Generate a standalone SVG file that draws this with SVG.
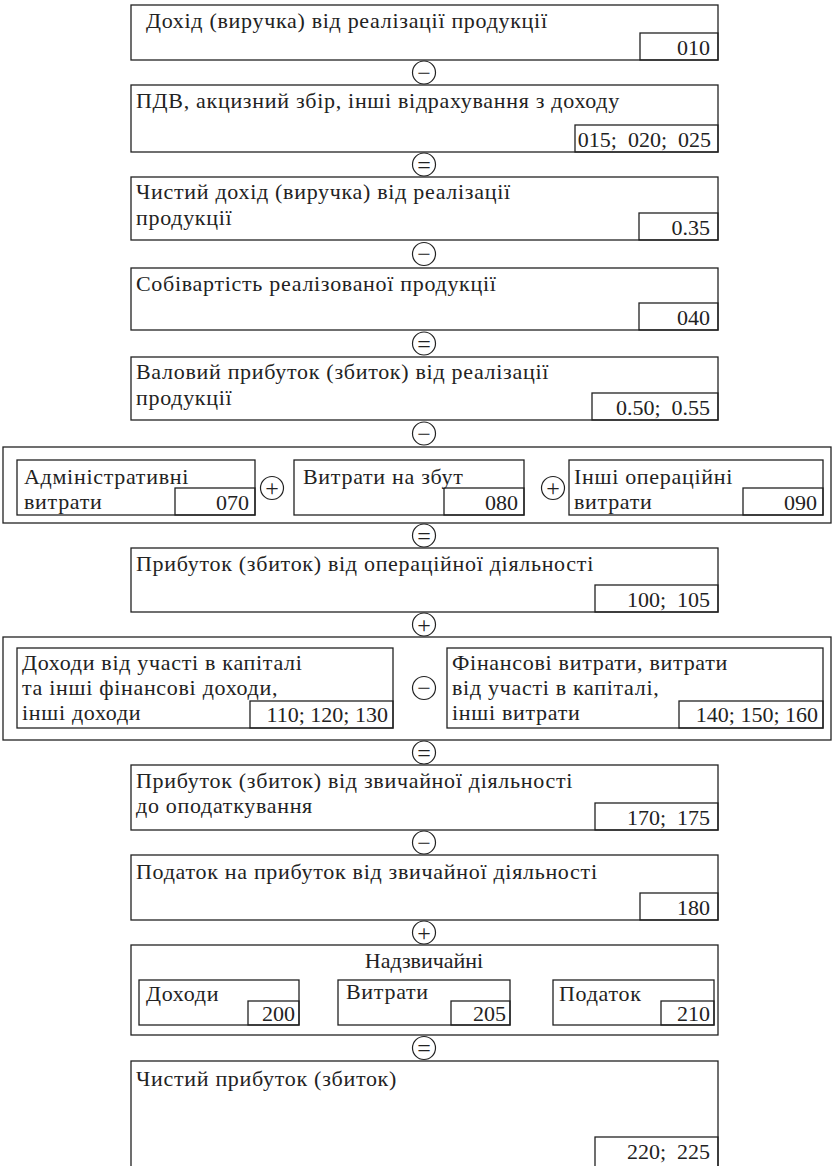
<svg xmlns="http://www.w3.org/2000/svg" width="833" height="1166" viewBox="0 0 833 1166">
<style>
.b{fill:none;stroke:#222;stroke-width:1.3}
.t{font-family:"Liberation Serif","Times New Roman",serif;font-size:22px;letter-spacing:0.7px;fill:#222}
.n{font-family:"Liberation Serif","Times New Roman",serif;font-size:22px;fill:#222;text-anchor:end;white-space:pre}
.c{fill:#fff;stroke:#222;stroke-width:1.2}
.s{font-family:"Liberation Serif","Times New Roman",serif;font-size:22px;fill:#222;text-anchor:middle}
.o{font-family:"Liberation Serif","Times New Roman",serif;font-size:24px;fill:#222;text-anchor:middle}
</style>
<rect width="833" height="1166" fill="#fff"/>
<g id="n1"><rect class="b" x="131" y="5" width="587" height="55"/><text class="t" x="146" y="28">Дохід (виручка) від реалізації продукції</text><rect class="b" x="640" y="33" width="78" height="27"/><text class="n" x="710" y="55">010</text></g>
<g id="n2"><rect class="b" x="131" y="85" width="587" height="67"/><text class="t" x="136" y="108">ПДВ, акцизний збір, інші відрахування з доходу</text><rect class="b" x="575" y="125" width="143" height="27"/><text class="n" x="711" y="147" xml:space="preserve">015;  020;  025</text></g>
<g id="n3"><rect class="b" x="131" y="177" width="587" height="63"/><text class="t" x="136" y="199">Чистий дохід (виручка) від реалізації</text><text class="t" x="136" y="225">продукції</text><rect class="b" x="639" y="213" width="79" height="27"/><text class="n" x="710" y="235">0.35</text></g>
<g id="n4"><rect class="b" x="131" y="268" width="587" height="62"/><text class="t" x="136" y="291">Собівартість реалізованої продукції</text><rect class="b" x="639" y="303" width="79" height="27"/><text class="n" x="710" y="325">040</text></g>
<g id="n5"><rect class="b" x="131" y="357" width="587" height="63"/><text class="t" x="136" y="379">Валовий прибуток (збиток) від реалізації</text><text class="t" x="136" y="405">продукції</text><rect class="b" x="592" y="393" width="126" height="27"/><text class="n" x="710" y="415" xml:space="preserve">0.50;  0.55</text></g>
<g id="n6"><rect class="b" x="3" y="447" width="828" height="76"/>
<rect class="b" x="17" y="460" width="238" height="55"/><text class="t" x="24" y="484">Адміністративні</text><text class="t" x="24" y="509">витрати</text><rect class="b" x="175" y="488" width="80" height="27"/><text class="n" x="249" y="510">070</text>
<rect class="b" x="294" y="460" width="230" height="55"/><text class="t" x="303" y="484">Витрати на збут</text><rect class="b" x="444" y="488" width="80" height="27"/><text class="n" x="518" y="510">080</text>
<rect class="b" x="569" y="460" width="254" height="55"/><text class="t" x="574" y="484">Інші операційні</text><text class="t" x="574" y="509">витрати</text><rect class="b" x="743" y="488" width="80" height="27"/><text class="n" x="817" y="510">090</text></g>
<g id="n7"><rect class="b" x="131" y="548" width="587" height="64"/><text class="t" x="136" y="571">Прибуток (збиток) від операційної діяльності</text><rect class="b" x="595" y="585" width="123" height="27"/><text class="n" x="710" y="607" xml:space="preserve">100;  105</text></g>
<g id="n8"><rect class="b" x="3" y="637" width="828" height="103"/>
<rect class="b" x="17" y="648" width="376" height="80"/><text class="t" x="22" y="670">Доходи від участі в капіталі</text><text class="t" x="22" y="695">та інші фінансові доходи,</text><text class="t" x="22" y="720">інші доходи</text><rect class="b" x="250" y="701" width="143" height="27"/><text class="n" x="388" y="722">110; 120; 130</text>
<rect class="b" x="447" y="648" width="376" height="80"/><text class="t" x="452" y="670">Фінансові витрати, витрати</text><text class="t" x="452" y="695">від участі в капіталі,</text><text class="t" x="452" y="720">інші витрати</text><rect class="b" x="679" y="701" width="144" height="27"/><text class="n" x="818" y="722">140; 150; 160</text></g>
<g id="n9"><rect class="b" x="131" y="765" width="587" height="65"/><text class="t" x="136" y="788">Прибуток (збиток) від звичайної діяльності</text><text class="t" x="136" y="813">до оподаткування</text><rect class="b" x="595" y="803" width="123" height="27"/><text class="n" x="710" y="825" xml:space="preserve">170;  175</text></g>
<g id="n10"><rect class="b" x="131" y="855" width="587" height="65"/><text class="t" x="136" y="879">Податок на прибуток від звичайної діяльності</text><rect class="b" x="640" y="893" width="78" height="27"/><text class="n" x="710" y="915">180</text></g>
<g id="n11"><rect class="b" x="131" y="945" width="587" height="90"/><text class="s" x="424" y="968">Надзвичайні</text>
<rect class="b" x="139" y="980" width="160" height="45"/><text class="t" x="146" y="1001">Доходи</text><rect class="b" x="248" y="1001" width="51" height="24"/><text class="n" x="295" y="1021">200</text>
<rect class="b" x="338" y="980" width="172" height="45"/><text class="t" x="346" y="999">Витрати</text><rect class="b" x="451" y="1001" width="59" height="24"/><text class="n" x="506" y="1021">205</text>
<rect class="b" x="553" y="980" width="161" height="45"/><text class="t" x="559" y="1001">Податок</text><rect class="b" x="661" y="1001" width="53" height="24"/><text class="n" x="710" y="1021">210</text></g>
<g id="n12"><rect class="b" x="131" y="1061" width="587" height="115"/><text class="t" x="136" y="1086">Чистий прибуток (збиток)</text><rect class="b" x="595" y="1137" width="123" height="35"/><text class="n" x="710" y="1159" xml:space="preserve">220;  225</text></g>
<g id="connectors">
<circle class="c" cx="424" cy="72.5" r="11.5"/><text class="o" x="424" y="80.5">−</text>
<circle class="c" cx="424" cy="164.5" r="11.5"/><text class="o" x="424" y="172.5">=</text>
<circle class="c" cx="424" cy="254" r="11.5"/><text class="o" x="424" y="262">−</text>
<circle class="c" cx="424" cy="343.5" r="11.5"/><text class="o" x="424" y="351.5">=</text>
<circle class="c" cx="424" cy="433.5" r="11.5"/><text class="o" x="424" y="441.5">−</text>
<circle class="c" cx="272" cy="488" r="11.5"/><text class="o" x="272" y="496">+</text>
<circle class="c" cx="553" cy="488" r="11.5"/><text class="o" x="553" y="496">+</text>
<circle class="c" cx="424" cy="535.5" r="11.5"/><text class="o" x="424" y="543.5">=</text>
<circle class="c" cx="424" cy="624.5" r="11.5"/><text class="o" x="424" y="632.5">+</text>
<circle class="c" cx="424" cy="688" r="11.5"/><text class="o" x="424" y="696">−</text>
<circle class="c" cx="424" cy="752.5" r="11.5"/><text class="o" x="424" y="760.5">=</text>
<circle class="c" cx="424" cy="842.5" r="11.5"/><text class="o" x="424" y="850.5">−</text>
<circle class="c" cx="424" cy="932.5" r="11.5"/><text class="o" x="424" y="940.5">+</text>
<circle class="c" cx="424" cy="1048" r="11.5"/><text class="o" x="424" y="1056">=</text>
</g>
</svg>
